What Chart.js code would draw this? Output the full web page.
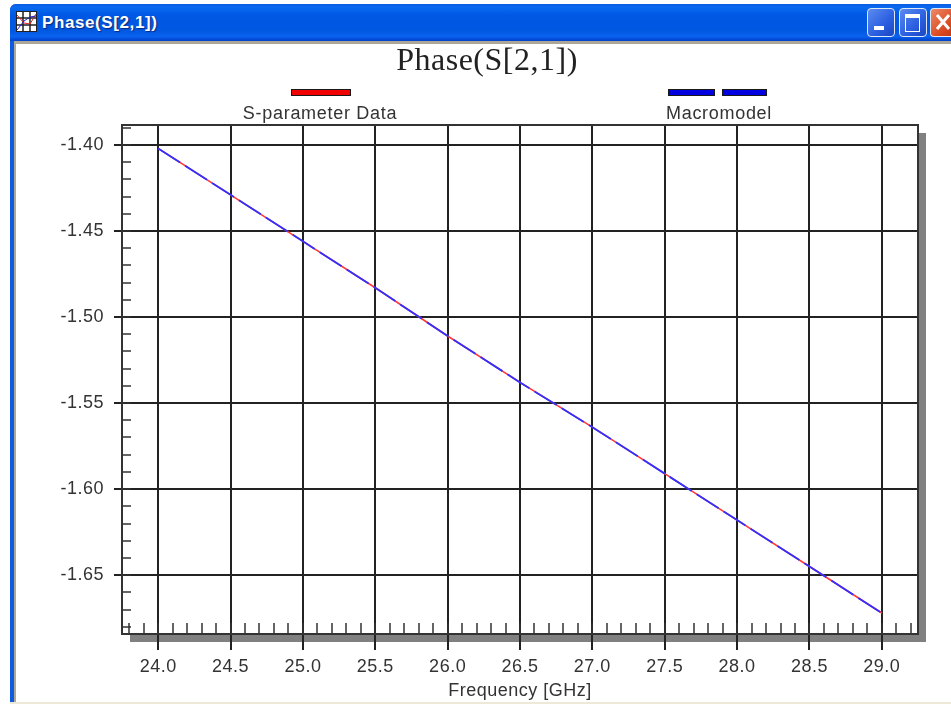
<!DOCTYPE html>
<html>
<head>
<meta charset="utf-8">
<title>Phase(S[2,1])</title>
<script src="https://cdn.jsdelivr.net/npm/chart.js@4"></script>
<style>
  html, body { margin: 0; padding: 0; background: #fff; overflow: hidden; }
  #win { position: absolute; left: 10px; top: 4px; width: 941px; height: 700px; background: #0f5ae0; border-radius: 6px 0 0 0; }
  #bar { position: absolute; left: 0; top: 0; width: 941px; height: 37px; border-radius: 6px 0 0 0;
         background: linear-gradient(#0a5be2 0, #0a6af0 8%, #0058e4 30%, #0057e0 70%, #0a62ee 88%, #0040c8 100%); }
  #bar span { position: absolute; left: 32px; top: 9px; color: #fff; font: bold 17px "Liberation Sans", sans-serif;
              letter-spacing: .6px; text-shadow: 1px 1px 1px #0a2a80; }
  #icon { position: absolute; left: 6px; top: 7px; }
  .btn { position: absolute; top: 4px; width: 26px; height: 27px; border: 1px solid #dfe8fa; border-radius: 4px;
         background: linear-gradient(135deg, #5c8cf0, #2a5ee0 60%, #1c46c0); }
  #close { background: linear-gradient(135deg, #ee8a68, #d8481e 60%, #b83010); width: 30px; border-right: 0; border-radius: 4px 0 0 4px; }
  #inner { position: absolute; left: 4px; top: 37px; width: 937px; height: 661px; background: #aca899; }
  #client { position: absolute; left: 2px; top: 3px; width: 935px; height: 658px; background: #fff; }
  #foot { position: absolute; left: 0; top: 698px; width: 941px; height: 2px; background: #ece9d8; }
  canvas { position: absolute; left: 0; top: 0; }
</style>
</head>
<body>
<div id="win">
  <div id="bar">
    <svg id="icon" width="21" height="21" viewBox="0 0 21 21">
      <rect x="0" y="0" width="21" height="21" fill="#fff" stroke="#222" stroke-width="2"/>
      <path d="M7 0V21M14 0V21M0 7H21M0 14H21" stroke="#222" stroke-width="1.5"/>
      <path d="M1 4L8 12L14 13L20 3" stroke="#d22" stroke-width="1" fill="none"/>
      <path d="M1 19L8 10L14 6L20 5" stroke="#22c" stroke-width="1" fill="none"/>
    </svg>
    <span>Phase(S[2,1])</span>
    <div class="btn" style="left:857px"><div style="position:absolute;left:6px;top:17px;width:10px;height:4px;background:#fff"></div></div>
    <div class="btn" style="left:889px"><div style="position:absolute;left:5px;top:5px;width:13px;height:13px;border:1px solid #fff;border-top-width:4px;box-sizing:content-box"></div></div>
    <div class="btn" id="close" style="left:920px"><svg width="30" height="27"><path d="M6 6L18 20M18 6L6 20" stroke="#fff" stroke-width="3"/></svg></div>
  </div>
  <div id="inner"><div id="client"><canvas id="plot" width="935" height="658"></canvas></div></div>
  <div id="foot"></div>
</div>
<script>
// values
const frequency = [24.0, 24.5, 25.0, 25.5, 26.0, 26.5, 27.0, 27.5, 28.0, 28.5, 29.0];
const sParameterData = [-1.402, -1.429, -1.456, -1.483, -1.511, -1.538, -1.564, -1.591, -1.618, -1.645, -1.672];
const macromodel = [-1.402, -1.429, -1.456, -1.483, -1.511, -1.538, -1.564, -1.591, -1.618, -1.645, -1.672];
const xTicks = [24.0, 24.5, 25.0, 25.5, 26.0, 26.5, 27.0, 27.5, 28.0, 28.5, 29.0];
const yTicks = [-1.40, -1.45, -1.50, -1.55, -1.60, -1.65];
const xMinorStep = 0.1;
const yMinorStep = 0.01;

const sansFont = { family: '"Liberation Sans", Arial, sans-serif', size: 18 };
const inkColor = '#333';

// Grey drop shadow, white plot background and the letter spacing of the old toolkit
const backdrop = {
    id: 'backdrop',
    beforeDraw(chart) {
        const { ctx, chartArea: a } = chart;
        ctx.letterSpacing = '0.5px';
        ctx.fillStyle = '#808080';
        ctx.fillRect(a.left + 8, a.top + 8, a.width, a.height);
        ctx.fillStyle = '#fff';
        ctx.fillRect(a.left, a.top, a.width, a.height);
    }
};

// Small inward ticks on the left and bottom axes, plus the frame
const minorTicks = {
    id: 'minorTicks',
    beforeDatasetsDraw(chart) {
        const { ctx, chartArea: a, scales: { x, y } } = chart;
        ctx.save();
        ctx.strokeStyle = '#333';
        ctx.lineWidth = 1.5;
        ctx.beginPath();
        for (let i = Math.ceil(x.min / xMinorStep); i * xMinorStep <= x.max; i++) {
            const px = Math.round(x.getPixelForValue(i * xMinorStep));
            ctx.moveTo(px, a.bottom);
            ctx.lineTo(px, a.bottom - 11);
        }
        for (let i = Math.ceil(y.min / yMinorStep); i * yMinorStep <= y.max; i++) {
            const py = Math.round(y.getPixelForValue(i * yMinorStep));
            ctx.moveTo(a.left, py);
            ctx.lineTo(a.left + 9, py);
        }
        ctx.stroke();
        ctx.strokeStyle = '#333';
        ctx.lineWidth = 2;
        ctx.strokeRect(a.left, a.top, a.width, a.height);
        ctx.restore();
    }
};

// Legend: swatch above its label, spaced far apart like the original
const splitLegend = {
    id: 'splitLegend',
    afterDraw(chart) {
        const { ctx } = chart;
        const entries = [
            { set: chart.data.datasets[0], cx: 304, boxes: [[275, 60]] },
            { set: chart.data.datasets[1], cx: 703, boxes: [[652, 47], [706, 45]] }
        ];
        ctx.save();
        ctx.letterSpacing = '0.7px';
        ctx.font = `${sansFont.size}px ${sansFont.family}`;
        ctx.textAlign = 'center';
        ctx.textBaseline = 'middle';
        for (const e of entries) {
            for (const [bx, bw] of e.boxes) {
                ctx.fillStyle = '#1a1a1a';
                ctx.fillRect(bx, 45, bw, 7);
                ctx.fillStyle = e.set.legendColor;
                ctx.fillRect(bx + 1, 46, bw - 2, 5);
            }
            ctx.fillStyle = inkColor;
            ctx.fillText(e.set.label, e.cx, 70);
        }
        ctx.restore();
    }
};

new Chart(document.getElementById('plot').getContext('2d'), {
    type: 'line',
    data: {
        datasets: [
            {
                label: 'S-parameter Data',
                data: frequency.map((f, i) => ({ x: f, y: sParameterData[i] })),
                borderColor: '#ff3838',
                legendColor: '#f00000',
                borderWidth: 1.6,
                pointRadius: 0,
                order: 2
            },
            {
                label: 'Macromodel',
                data: frequency.map((f, i) => ({ x: f, y: macromodel[i] })),
                borderColor: '#3030ff',
                legendColor: '#0000e0',
                borderWidth: 1.8,
                borderDash: [26, 6],
                pointRadius: 0,
                order: 1
            }
        ]
    },
    options: {
        responsive: false,
        animation: false,
        layout: { padding: { left: 40, right: 33, top: 0, bottom: 0 } },
        plugins: {
            legend: { display: false },
            tooltip: { enabled: false },
            title: {
                display: true,
                text: 'Phase(S[2,1])',
                color: '#222',
                font: { family: '"Liberation Serif", "Times New Roman", serif', size: 32, weight: 'normal', lineHeight: 1 },
                padding: { top: 2, bottom: 47 }
            }
        },
        scales: {
            x: {
                type: 'linear',
                min: 23.75,
                max: 29.25,
                afterBuildTicks: scale => { scale.ticks = xTicks.map(value => ({ value })); },
                afterFit: scale => { scale.height = 68; },
                grid: { color: '#222', lineWidth: 2, tickLength: 16 },
                border: { color: '#333', width: 2 },
                ticks: {
                    color: inkColor, font: sansFont, padding: 6, maxRotation: 0, autoSkip: false,
                    callback: v => Number(v).toFixed(1)
                },
                title: { display: true, text: 'Frequency [GHz]', color: inkColor, font: sansFont, padding: 0 }
            },
            y: {
                type: 'linear',
                min: -1.6842,
                max: -1.3884,
                afterBuildTicks: scale => { scale.ticks = yTicks.map(value => ({ value })); },
                afterFit: scale => { scale.width = 66; },
                grid: { color: '#222', lineWidth: 2, tickLength: 8 },
                border: { color: '#333', width: 2 },
                ticks: {
                    color: inkColor, font: sansFont, padding: 10, autoSkip: false,
                    callback: v => Number(v).toFixed(2)
                }
            }
        }
    },
    plugins: [backdrop, minorTicks, splitLegend]
});
</script>
</body>
</html>
